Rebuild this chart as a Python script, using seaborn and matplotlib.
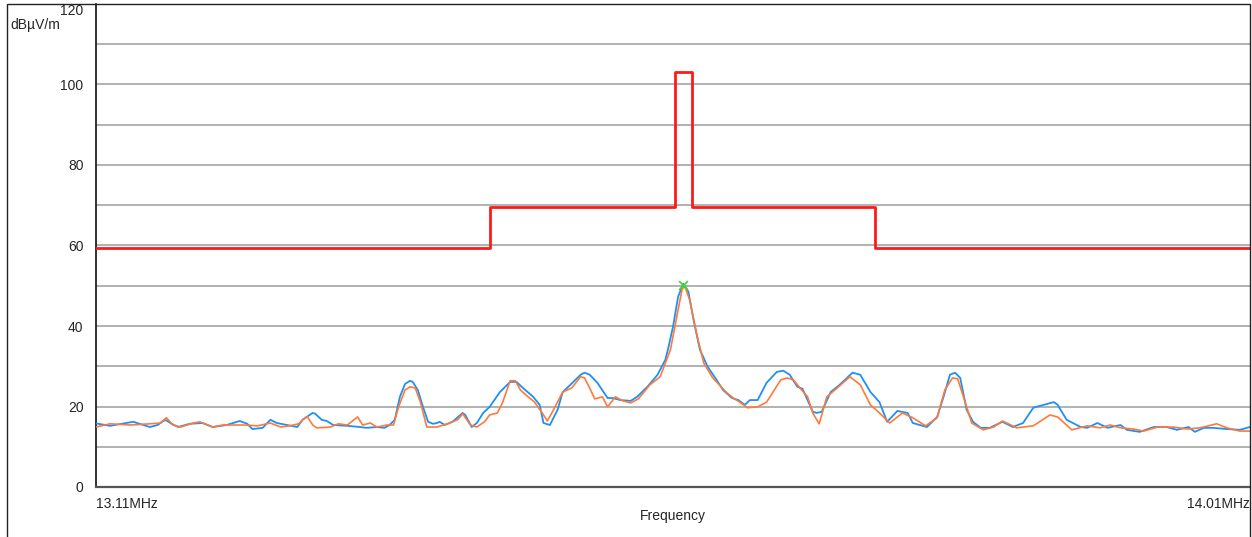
import matplotlib
matplotlib.use("Agg")
import matplotlib.pyplot as plt
import seaborn as sns
import pandas as pd
from matplotlib.patches import Rectangle

sns.set_style("white")
plt.rcParams["font.family"] = ["Liberation Sans", "DejaVu Sans"]

# Limit mask (dBuV/m) as step edges in MHz
limit_freq = [13.110, 13.417, 13.5616, 13.575, 13.7177, 14.010]
limit_level = [59.5, 69.5, 103.0, 69.5, 59.5, 59.5]

# Peak-detector trace
peak_freq = [13.110, 13.121, 13.139, 13.152, 13.158, 13.164, 13.169, 13.174, 13.183, 13.193,
             13.201, 13.212, 13.222, 13.228, 13.232, 13.240, 13.246, 13.251, 13.259, 13.267,
             13.271, 13.279, 13.281, 13.286, 13.290, 13.295, 13.306, 13.316, 13.321, 13.329,
             13.335, 13.339, 13.343, 13.347, 13.351, 13.355, 13.357, 13.361, 13.365, 13.369,
             13.373, 13.376, 13.378, 13.382, 13.388, 13.396, 13.398, 13.403, 13.407, 13.412,
             13.417, 13.425, 13.433, 13.438, 13.443, 13.451, 13.456, 13.459, 13.464, 13.470,
             13.474, 13.480, 13.488, 13.491, 13.495, 13.501, 13.509, 13.513, 13.519, 13.527,
             13.532, 13.540, 13.548, 13.554, 13.556, 13.560, 13.564, 13.568, 13.572, 13.576,
             13.581, 13.587, 13.594, 13.599, 13.606, 13.611, 13.616, 13.620, 13.626, 13.633,
             13.641, 13.646, 13.651, 13.657, 13.661, 13.669, 13.672, 13.676, 13.683, 13.690,
             13.700, 13.706, 13.714, 13.721, 13.727, 13.735, 13.743, 13.747, 13.758, 13.766,
             13.771, 13.776, 13.780, 13.784, 13.789, 13.794, 13.800, 13.807, 13.817, 13.825,
             13.833, 13.841, 13.849, 13.857, 13.860, 13.867, 13.878, 13.883, 13.891, 13.899,
             13.909, 13.914, 13.924, 13.935, 13.945, 13.953, 13.962, 13.967, 13.974, 13.981,
             13.992, 14.002, 14.010]
peak_level = [15.8, 15.2, 16.2, 14.9, 15.4, 16.7, 15.7, 14.9, 15.7, 15.9,
              14.9, 15.4, 16.4, 15.7, 14.4, 14.7, 16.7, 15.9, 15.4, 14.9,
              16.7, 18.4, 18.2, 16.7, 16.4, 15.4, 15.2, 14.9, 14.7, 14.9,
              14.7, 15.4, 16.7, 22.4, 25.6, 26.4, 26.1, 24.1, 19.9, 16.2,
              15.7, 15.9, 16.2, 15.4, 16.2, 18.4, 17.9, 14.9, 15.9, 18.4,
              19.9, 23.6, 26.1, 26.1, 24.6, 22.4, 20.4, 15.9, 15.4, 19.2,
              23.6, 25.4, 27.9, 28.4, 27.9, 25.9, 22.1, 22.1, 21.6, 21.4,
              22.4, 24.9, 27.9, 31.6, 34.1, 39.8, 47.3, 50.5, 48.5, 41.5,
              34.1, 29.9, 26.6, 24.1, 22.1, 21.6, 20.4, 21.6, 21.6, 25.9,
              28.6, 28.9, 27.9, 24.9, 24.4, 18.7, 18.4, 18.7, 23.6, 25.4,
              28.4, 27.9, 23.6, 21.1, 16.2, 18.9, 18.4, 15.9, 14.9, 17.4,
              22.4, 27.9, 28.4, 27.1, 19.2, 16.2, 14.7, 14.7, 16.2, 14.9,
              15.9, 19.7, 20.4, 21.1, 20.4, 16.7, 14.9, 14.7, 15.9, 14.7,
              15.4, 14.2, 13.7, 14.9, 14.9, 14.2, 14.9, 13.7, 14.7, 14.7,
              14.4, 14.2, 14.9]

# Quasi-peak / average trace
avg_freq = [13.110, 13.121, 13.137, 13.152, 13.160, 13.165, 13.170, 13.176, 13.186, 13.191,
            13.201, 13.209, 13.225, 13.236, 13.246, 13.254, 13.261, 13.268, 13.273, 13.275,
            13.279, 13.282, 13.293, 13.299, 13.306, 13.314, 13.318, 13.324, 13.329, 13.337,
            13.342, 13.346, 13.351, 13.355, 13.359, 13.363, 13.368, 13.376, 13.384, 13.392,
            13.396, 13.402, 13.407, 13.413, 13.417, 13.423, 13.427, 13.433, 13.437, 13.441,
            13.447, 13.452, 13.458, 13.462, 13.466, 13.474, 13.481, 13.488, 13.491, 13.495,
            13.499, 13.505, 13.509, 13.515, 13.521, 13.527, 13.533, 13.542, 13.550, 13.558,
            13.563, 13.567, 13.569, 13.573, 13.579, 13.584, 13.591, 13.602, 13.607, 13.612,
            13.618, 13.626, 13.633, 13.644, 13.649, 13.654, 13.659, 13.665, 13.669, 13.674,
            13.680, 13.688, 13.698, 13.706, 13.714, 13.721, 13.729, 13.739, 13.747, 13.757,
            13.766, 13.772, 13.778, 13.782, 13.788, 13.793, 13.802, 13.810, 13.817, 13.828,
            13.841, 13.854, 13.860, 13.871, 13.883, 13.893, 13.901, 13.909, 13.919, 13.927,
            13.938, 13.950, 13.961, 13.971, 13.984, 13.992, 14.002, 14.010]
avg_level = [14.9, 15.7, 15.4, 15.7, 15.9, 17.2, 15.4, 14.9, 15.9, 16.2,
             14.9, 15.4, 15.4, 15.2, 15.9, 14.9, 15.2, 15.7, 17.2, 17.4,
             15.4, 14.7, 14.9, 15.7, 15.4, 17.4, 15.4, 15.9, 14.9, 15.4,
             15.4, 19.9, 24.1, 24.9, 24.6, 21.1, 14.9, 14.9, 15.7, 16.7,
             18.2, 15.4, 14.9, 16.2, 17.9, 18.4, 20.9, 26.4, 26.4, 24.1,
             22.4, 21.1, 18.4, 16.4, 18.7, 23.6, 24.6, 27.4, 27.1, 24.6,
             21.9, 22.4, 19.9, 22.4, 21.4, 20.9, 21.9, 25.4, 27.4, 34.1,
             42.3, 49.0, 50.0, 46.5, 37.3, 30.8, 27.1, 23.4, 22.1, 21.1,
             19.7, 19.9, 21.1, 26.6, 27.1, 26.6, 24.6, 22.4, 18.4, 15.7,
             22.4, 24.6, 27.4, 25.4, 20.4, 18.4, 15.9, 18.4, 17.2, 15.2,
             17.2, 24.1, 27.1, 26.9, 20.9, 15.9, 14.2, 14.9, 16.4, 14.7,
             15.2, 17.9, 17.4, 14.2, 15.2, 14.7, 15.4, 14.7, 14.4, 13.9,
             14.9, 14.9, 14.4, 14.7, 15.7, 14.7, 13.9, 13.9]

# Highest emission marker
marker_freq = [13.568]
marker_level = [50.3]

y_ticks = [0, 20, 40, 60, 80, 100, 120]
x_range = (13.11, 14.01)
x_tick_labels = ["13.11MHz", "14.01MHz"]

fig = plt.figure(figsize=(12.52, 5.37), dpi=100)
ax = fig.add_axes([96 / 1252, 1 - 487 / 537, (1250 - 96) / 1252, (487 - 4) / 537])

# Outer frame of the figure
fig.patches.append(Rectangle((7 / 1252, -0.05), (1249.5 - 7) / 1252, 1 - 4 / 537 + 0.05,
                             transform=fig.transFigure, fill=False,
                             edgecolor="#222222", linewidth=1.0, zorder=0))

for y in range(10, 120, 10):
    ax.axhline(y, color="#9c9c9c", linewidth=1.1, zorder=0)

df_peak = pd.DataFrame({"freq": peak_freq, "level": peak_level})
df_avg = pd.DataFrame({"freq": avg_freq, "level": avg_level})
df_lim = pd.DataFrame({"freq": limit_freq, "level": limit_level})

sns.lineplot(data=df_lim, x="freq", y="level", ax=ax, color="#ff1a1a",
             linewidth=2.0, drawstyle="steps-post", estimator=None, zorder=3)
sns.lineplot(data=df_peak, x="freq", y="level", ax=ax, color="#1f8ff5",
             linewidth=1.3, estimator=None, zorder=4)
sns.lineplot(data=df_avg, x="freq", y="level", ax=ax, color="#ff7a3a",
             linewidth=1.2, estimator=None, zorder=5)
ax.scatter(marker_freq, marker_level, marker="x", color="#33dd33", s=40,
           linewidths=1.2, zorder=6)

ax.set_xlim(*x_range)
ax.set_ylim(0, 120)
ax.set_yticks(y_ticks)
ax.set_yticklabels([str(v) for v in y_ticks], fontsize=10)
ax.get_yticklabels()[-1].set_va("top")
ax.set_xticks(list(x_range))
ax.set_xticklabels(x_tick_labels, fontsize=10)
ax.get_xticklabels()[0].set_ha("left")
ax.get_xticklabels()[1].set_ha("right")
ax.tick_params(axis="y", direction="out", length=5, width=1, color="#222222", pad=4)
ax.tick_params(axis="x", direction="out", length=9, width=1, color="#222222", pad=-2)

ax.set_xlabel("Frequency", fontsize=10, labelpad=-1)
ax.set_ylabel("")
fig.text(10 / 1252, 1 - 25 / 537, "dBµV/m", fontsize=10, va="center", ha="left")

for side in ("top", "right"):
    ax.spines[side].set_visible(False)
ax.spines["left"].set_color("#111111")
ax.spines["left"].set_linewidth(1.2)
ax.spines["bottom"].set_color("#555555")
ax.spines["bottom"].set_linewidth(1.6)

fig.savefig("out.png", dpi=100)
